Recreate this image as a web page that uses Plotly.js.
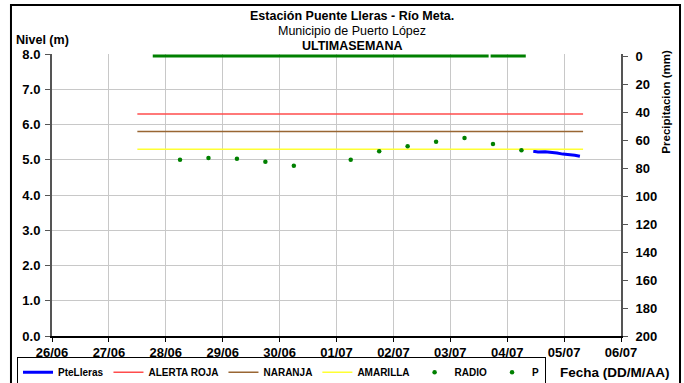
<!DOCTYPE html>
<html>
<head>
<meta charset="utf-8">
<script src="https://cdn.plot.ly/plotly-3.0.1.min.js"></script>
<style>html,body{margin:0;padding:0;background:#fff;}#chart{width:684px;height:383px;}</style>
</head>
<body>
<div id="chart"></div>
<script>
// Nivel PteLleras (m)
var levelTimes = ["2014-07-04 11:00","2014-07-04 13:00","2014-07-04 16:00","2014-07-04 18:30","2014-07-04 21:00","2014-07-04 23:30","2014-07-05 02:00","2014-07-05 04:30","2014-07-05 06:40"];
var levelValues = [5.24,5.22,5.23,5.22,5.19,5.16,5.15,5.13,5.10];

// Radio readings (m)
var radioTimes = ["2014-06-28 06:00","2014-06-28 18:00","2014-06-29 06:00","2014-06-29 18:00","2014-06-30 06:00","2014-07-01 06:00","2014-07-01 18:00","2014-07-02 06:00","2014-07-02 18:00","2014-07-03 06:00","2014-07-03 18:00","2014-07-04 06:00"];
var radioValues = [5.00,5.05,5.03,4.94,4.83,5.00,5.24,5.38,5.51,5.62,5.45,5.27];

// Alert thresholds (m)
var alertTimes = ["2014-06-27 12:00","2014-07-05 08:00"];
var alertaRoja = [6.3,6.3];
var naranja = [5.8,5.8];
var amarilla = [5.3,5.3];

// Precipitation (mm) - zero throughout recorded periods
var pTimes = ["2014-06-27 18:30","2014-07-03 16:10",null,"2014-07-03 17:00","2014-07-04 07:50"];
var pValues = [0,0,null,0,0];

var dateTicks = ["2014-06-26","2014-06-27","2014-06-28","2014-06-29","2014-06-30","2014-07-01","2014-07-02","2014-07-03","2014-07-04","2014-07-05","2014-07-06"];
var dateLabels = ["26/06","27/06","28/06","29/06","30/06","01/07","02/07","03/07","04/07","05/07","06/07"];
var precipTicks = [0,20,40,60,80,100,120,140,160,180,200];

var F = "Liberation Sans, Arial, sans-serif";
var tickFont = {family: F, size: 13, color: "#000", weight: "bold"};

var traces = [
  {x: levelTimes, y: levelValues, name: "PteLleras", mode: "lines", line: {color: "#0000ff", width: 3}},
  {x: alertTimes, y: alertaRoja, name: "ALERTA ROJA", mode: "lines", line: {color: "#ff4d4d", width: 1.5}},
  {x: alertTimes, y: naranja, name: "NARANJA", mode: "lines", line: {color: "#996633", width: 1.5}},
  {x: alertTimes, y: amarilla, name: "AMARILLA", mode: "lines", line: {color: "#ffff33", width: 1.5}},
  {x: radioTimes, y: radioValues, name: "RADIO", mode: "markers", marker: {color: "#008000", size: 4.5}},
  {x: pTimes, y: pValues, name: "P", mode: "lines", yaxis: "y2", line: {color: "#008000", width: 3}, showlegend: false, connectgaps: false},
  {x: [null], y: [null], name: "P", mode: "markers", yaxis: "y2", marker: {color: "#008000", size: 4.5}}
];

var layout = {
  width: 684, height: 383,
  margin: {l: 52, r: 63, t: 54, b: 47, autoexpand: false},
  paper_bgcolor: "#fff", plot_bgcolor: "#fff",
  font: {family: F, size: 11, color: "#000"},
  xaxis: {
    type: "date",
    range: ["2014-06-26", "2014-07-06"],
    tickvals: dateTicks, ticktext: dateLabels,
    tickfont: tickFont,
    showgrid: true, gridcolor: "#c8c8c8", gridwidth: 1,
    showline: true, linecolor: "#000", linewidth: 1.5,
    ticks: "outside", ticklen: 4, tickcolor: "#000",
    zeroline: false, automargin: false
  },
  yaxis: {
    range: [0, 8], dtick: 1, tickformat: ".1f",
    tickfont: tickFont,
    showgrid: true, gridcolor: "#c8c8c8", gridwidth: 1,
    showline: true, linecolor: "#555", linewidth: 2,
    ticks: "outside", ticklen: 5, tickcolor: "#555",
    ticklabelstandoff: 2,
    zeroline: false, automargin: false
  },
  yaxis2: {
    overlaying: "y", side: "right",
    range: [200, -1.5], tickvals: precipTicks,
    tickfont: tickFont,
    showgrid: false, zeroline: false,
    showline: true, linecolor: "#555", linewidth: 2,
    ticks: "outside", ticklen: 5, tickcolor: "#555",
    ticklabelstandoff: 5, automargin: false
  },
  showlegend: true,
  legend: {
    orientation: "h",
    x: -0.0615, y: -0.074, xanchor: "left", yanchor: "top",
    bordercolor: "#000", borderwidth: 1, bgcolor: "#fff",
    font: {family: F, size: 10, color: "#000", weight: "bold"},
    itemwidth: 30, tracegroupgap: 0, traceorder: "normal"
  },
  annotations: [
    {text: "<b>Estación Puente Lleras - Río Meta.</b>", xref: "paper", yref: "paper", x: 0.527, y: 1.133, xanchor: "center", yanchor: "middle", showarrow: false, borderpad: 0, font: {family: F, size: 12.5}},
    {text: "Municipio de Puerto López", xref: "paper", yref: "paper", x: 0.527, y: 1.082, xanchor: "center", yanchor: "middle", showarrow: false, borderpad: 0, font: {family: F, size: 12.5}},
    {text: "<b>ULTIMASEMANA</b>", xref: "paper", yref: "paper", x: 0.527, y: 1.030, xanchor: "center", yanchor: "middle", showarrow: false, borderpad: 0, font: {family: F, size: 12.5}},
    {text: "<b>Nivel (m)</b>", xref: "paper", yref: "paper", x: -0.0668, y: 1.0496, xanchor: "left", yanchor: "middle", showarrow: false, font: {family: F, size: 12.5}},
    {text: "<b>Precipitacion (mm)</b>", xref: "paper", yref: "paper", x: 1.0786, y: 0.83, xanchor: "center", yanchor: "middle", textangle: -90, showarrow: false, font: {family: F, size: 11.5}},
    {text: "<b>Fecha (DD/M/AA)</b>", xref: "paper", yref: "paper", x: 0.9886, y: -0.130, xanchor: "center", yanchor: "middle", showarrow: false, font: {family: F, size: 13.5}}
  ],
  shapes: [
    {type: "rect", xref: "paper", yref: "paper", x0: -0.0721, x1: 1.1037, y0: -0.25, y1: 1.1738, line: {color: "#000", width: 2}, fillcolor: "rgba(0,0,0,0)", layer: "above"}
  ]
};

Plotly.newPlot("chart", traces, layout, {displayModeBar: false, staticPlot: true});
</script>
</body>
</html>
